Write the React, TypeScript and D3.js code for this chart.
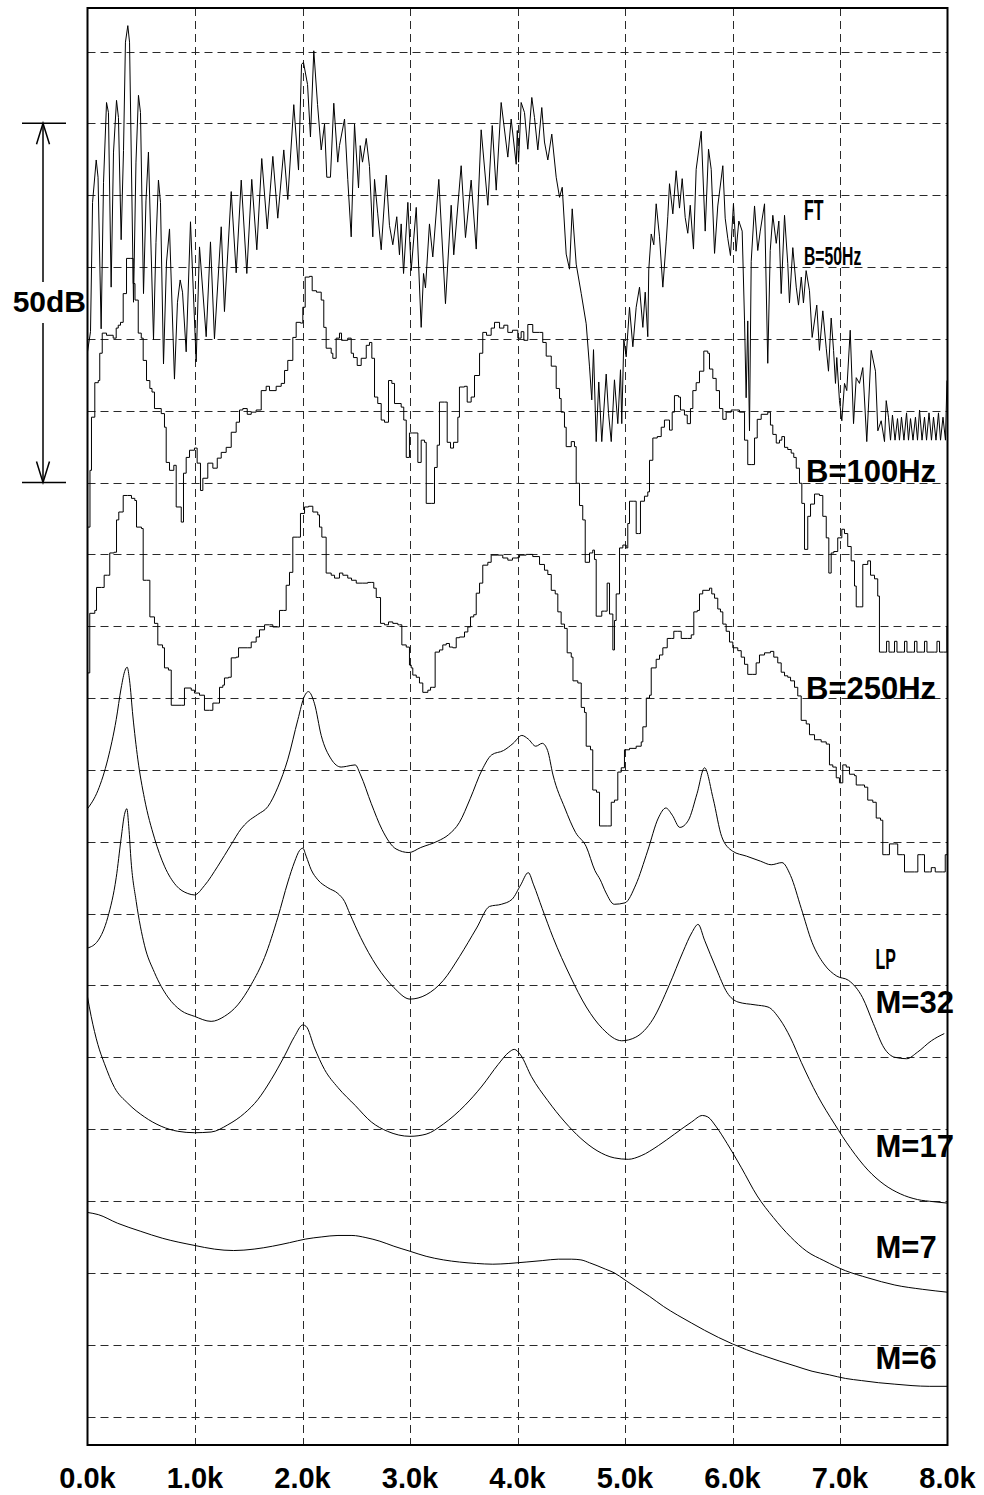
import React from 'react';
import * as d3 from 'd3';

// frequency in kHz, level in dB (10 dB per grid step)
const FT_B50: number[][] = [
  [0.000,148.2],[0.028,151.0],[0.047,169.0],[0.081,174.9],[0.098,172.5],[0.127,151.4],[0.149,171.8],[0.177,182.9],[0.195,181.5],[0.220,157.2],
  [0.242,176.0],[0.270,183.2],[0.288,180.8],[0.313,163.8],[0.335,176.2],[0.353,191.3],[0.375,193.6],[0.391,191.3],[0.428,155.1],[0.451,174.6],
  [0.474,183.9],[0.493,181.5],[0.521,156.3],[0.544,169.2],[0.567,176.0],[0.614,149.9],[0.637,163.4],[0.660,172.1],[0.679,169.0],[0.707,146.5],
  [0.735,160.7],[0.763,165.3],[0.809,144.4],[0.837,155.1],[0.862,158.2],[0.884,156.5],[0.918,148.2],[0.958,166.3],[1.011,146.8],[1.042,162.8],
  [1.104,150.3],[1.144,163.5],[1.181,150.0],[1.244,165.6],[1.274,153.8],[1.337,170.5],[1.383,159.2],[1.430,172.1],[1.482,159.1],[1.528,172.2],
  [1.575,162.4],[1.621,175.1],[1.672,165.3],[1.724,175.4],[1.770,166.8],[1.826,176.3],[1.863,169.4],[1.919,182.6],[1.963,173.5],[1.991,188.2],
  [2.009,188.5],[2.047,185.4],[2.074,178.1],[2.105,190.1],[2.140,182.6],[2.174,176.3],[2.205,179.9],[2.226,172.5],[2.260,172.5],[2.291,182.8],
  [2.328,174.6],[2.344,176.9],[2.391,180.6],[2.421,172.2],[2.453,164.2],[2.484,179.9],[2.521,171.0],[2.537,176.9],[2.558,174.6],[2.593,177.9],
  [2.623,174.0],[2.654,164.2],[2.670,172.2],[2.700,167.4],[2.732,162.4],[2.779,172.8],[2.809,165.8],[2.840,163.1],[2.877,167.0],[2.902,161.7],
  [2.918,166.0],[2.940,159.1],[2.980,169.0],[3.011,159.5],[3.058,168.3],[3.104,151.6],[3.126,159.1],[3.144,157.1],[3.181,166.0],[3.212,161.4],
  [3.268,172.2],[3.330,154.9],[3.383,168.6],[3.407,161.7],[3.476,174.1],[3.516,164.1],[3.569,172.1],[3.616,162.5],[3.662,179.1],[3.724,168.6],
  [3.765,179.7],[3.802,170.7],[3.848,182.9],[3.910,175.3],[3.941,180.6],[3.988,174.3],[3.998,179.0],[4.010,174.6],[4.034,182.9],[4.065,181.5],
  [4.096,176.4],[4.133,183.6],[4.158,180.8],[4.189,176.3],[4.226,182.2],[4.251,177.4],[4.282,174.9],[4.319,178.5],[4.360,172.5],[4.391,169.7],
  [4.416,171.1],[4.453,161.8],[4.484,159.7],[4.509,168.1],[4.546,160.4],[4.593,156.3],[4.639,152.1],[4.670,146.1],[4.691,141.5],[4.707,148.5],
  [4.732,135.7],[4.756,144.0],[4.784,135.7],[4.825,145.1],[4.847,139.6],[4.872,135.7],[4.902,144.3],[4.933,138.2],[4.958,145.7],[4.970,138.2],
  [4.989,149.9],[5.011,147.5],[5.042,154.4],[5.073,148.9],[5.104,154.4],[5.135,157.2],[5.166,151.6],[5.188,156.5],[5.212,150.3],[5.221,159.6],
  [5.244,164.6],[5.268,163.1],[5.290,168.8],[5.321,164.2],[5.352,157.2],[5.383,163.5],[5.398,167.0],[5.414,171.6],[5.445,167.4],[5.476,173.4],
  [5.507,168.2],[5.532,172.3],[5.560,166.9],[5.584,164.7],[5.607,168.6],[5.637,162.5],[5.662,173.6],[5.709,178.9],[5.746,165.0],[5.777,176.4],
  [5.802,173.6],[5.833,161.9],[5.863,168.5],[5.910,174.1],[5.932,166.8],[5.956,164.0],[5.981,161.6],[6.009,168.8],[6.033,162.2],[6.059,166.4],
  [6.090,165.0],[6.112,152.5],[6.127,141.8],[6.142,152.5],[6.158,137.2],[6.174,160.8],[6.205,168.5],[6.235,162.3],[6.258,165.0],[6.298,168.8],
  [6.328,146.6],[6.351,162.3],[6.375,167.2],[6.407,163.3],[6.431,166.4],[6.453,156.3],[6.484,167.2],[6.514,160.5],[6.530,155.0],[6.561,162.7],
  [6.593,157.2],[6.614,154.7],[6.640,158.6],[6.660,155.0],[6.685,159.5],[6.716,156.7],[6.741,150.2],[6.784,154.7],[6.809,148.4],[6.840,153.9],
  [6.872,148.7],[6.893,145.5],[6.918,152.9],[6.940,148.4],[6.958,143.8],[6.970,147.4],[6.995,141.4],[7.017,138.6],[7.042,143.8],[7.063,142.8],
  [7.095,151.2],[7.126,138.2],[7.151,144.6],[7.181,143.8],[7.212,146.0],[7.249,135.7],[7.290,148.4],[7.330,145.5],[7.352,137.2],[7.383,138.6],
  [7.414,135.7],[7.430,141.4],[7.451,139.1],[7.470,135.9],[7.488,139.4],[7.512,135.9],[7.535,138.9],[7.553,135.9],[7.572,139.1],[7.595,135.9],
  [7.619,139.7],[7.637,135.9],[7.656,138.9],[7.679,135.9],[7.702,139.1],[7.721,135.9],[7.740,140.1],[7.763,135.9],[7.786,139.1],[7.805,135.9],
  [7.828,139.7],[7.851,135.9],[7.870,139.1],[7.893,135.9],[7.916,139.7],[7.935,135.9],[7.958,139.1],[7.981,135.9],[7.995,144.2],
];

const FT_B100: number[][] = [
  [0,123.8],[0.023,131.7],[0.037,139.1],[0.068,143.9],[0.100,144.2],[0.114,148.0],[0.137,150.8],[0.177,150.5],[0.239,150.1],[0.267,151.5],
  [0.286,151.9],[0.307,152.3],[0.332,156.3],[0.363,161.2],[0.403,161.2],[0.425,157.7],[0.442,155.4],[0.472,150.8],[0.500,150.1],[0.518,147.0],
  [0.549,144.2],[0.580,143.1],[0.600,142.6],[0.623,140.3],[0.686,139.6],[0.716,137.7],[0.732,132.8],[0.763,131.7],[0.803,132.4],[0.825,126.6],
  [0.872,124.5],[0.893,131.3],[0.918,133.5],[0.949,134.5],[0.995,134.8],[1.020,132.7],[1.051,128.9],[1.073,130.6],[1.119,132.7],[1.166,132.0],
  [1.207,133.4],[1.244,134.2],[1.290,134.9],[1.337,137.0],[1.383,138.4],[1.414,140.1],[1.445,140.3],[1.486,139.5],[1.523,139.8],[1.569,140.1],
  [1.616,142.8],[1.662,143.4],[1.693,142.8],[1.755,143.4],[1.802,143.8],[1.833,145.6],[1.863,147.0],[1.910,150.2],[1.941,152.3],[1.981,152.2],
  [2.003,154.4],[2.025,158.6],[2.065,158.7],[2.090,156.7],[2.130,156.5],[2.174,155.4],[2.198,151.6],[2.220,148.7],[2.267,148.0],[2.282,147.3],
  [2.313,150.1],[2.344,150.8],[2.363,149.8],[2.421,150.1],[2.453,148.0],[2.474,147.4],[2.509,146.3],[2.546,147.3],[2.593,149.1],[2.623,149.5],
  [2.645,147.3],[2.670,141.9],[2.700,141.0],[2.732,138.7],[2.763,138.4],[2.800,144.2],[2.831,143.8],[2.856,141.0],[2.918,140.5],[2.942,138.7],
  [2.965,133.5],[2.995,136.9],[3.026,136.9],[3.073,132.8],[3.104,135.9],[3.135,135.6],[3.151,127.1],[3.197,127.1],[3.228,132.1],[3.253,135.2],
  [3.274,141.2],[3.321,141.2],[3.346,135.6],[3.377,134.8],[3.405,135.6],[3.445,139.1],[3.460,143.3],[3.507,143.4],[3.532,141.2],[3.569,141.9],
  [3.600,144.9],[3.647,148.0],[3.677,150.9],[3.712,150.5],[3.755,151.5],[3.786,152.3],[3.833,151.5],[3.873,151.9],[3.910,150.9],[3.953,151.2],
  [4.003,150.1],[4.034,151.0],[4.059,149.8],[4.096,152.0],[4.142,150.9],[4.205,150.9],[4.235,149.5],[4.267,147.6],[4.298,147.6],[4.314,146.2],
  [4.360,143.1],[4.391,141.7],[4.406,139.8],[4.437,137.7],[4.453,135.0],[4.500,135.7],[4.530,135.0],[4.546,129.9],[4.577,126.8],[4.607,124.8],
  [4.630,118.9],[4.670,120.2],[4.700,120.6],[4.716,119.3],[4.732,111.4],[4.784,112.1],[4.809,112.1],[4.834,116.0],[4.856,111.7],[4.887,106.7],
  [4.902,110.8],[4.918,114.5],[4.949,120.9],[4.980,121.3],[5.011,120.9],[5.026,124.3],[5.042,127.4],[5.082,127.4],[5.104,122.9],[5.126,122.9],
  [5.144,127.4],[5.181,128.1],[5.212,128.7],[5.228,133.1],[5.259,136.2],[5.300,136.4],[5.337,137.7],[5.367,138.7],[5.398,138.7],[5.414,137.3],
  [5.439,139.8],[5.460,142.1],[5.498,141.9],[5.516,140.1],[5.553,139.4],[5.579,138.2],[5.609,140.3],[5.631,142.8],[5.662,143.9],[5.693,145.5],
  [5.733,148.3],[5.770,148.0],[5.786,145.8],[5.817,144.5],[5.848,142.8],[5.879,140.3],[5.910,138.8],[5.941,139.8],[5.988,140.1],[6.035,140.1],
  [6.065,139.8],[6.112,135.9],[6.142,132.5],[6.180,132.5],[6.205,136.2],[6.230,138.8],[6.267,139.5],[6.328,139.8],[6.353,138.0],[6.375,136.7],
  [6.407,135.5],[6.437,135.9],[6.459,136.4],[6.484,134.9],[6.514,134.6],[6.546,134.1],[6.570,133.5],[6.593,132.0],[6.623,129.9],[6.645,127.1],
  [6.670,120.7],[6.700,125.3],[6.726,127.0],[6.763,128.4],[6.809,128.2],[6.840,125.3],[6.872,122.3],[6.896,117.4],[6.918,120.2],[6.942,120.4],
  [6.979,122.3],[7.017,123.5],[7.042,122.9],[7.072,121.1],[7.104,119.1],[7.135,115.6],[7.151,112.7],[7.181,112.7],[7.212,118.6],[7.258,119.1],
  [7.284,117.1],[7.321,116.6],[7.351,114.2],[7.367,106.4],[7.414,106.4],[7.433,107.9],[7.456,106.4],[7.488,106.4],[7.507,107.9],[7.530,106.4],
  [7.581,106.4],[7.600,107.9],[7.623,106.4],[7.674,106.4],[7.693,107.9],[7.716,106.4],[7.767,106.4],[7.786,107.9],[7.809,106.4],[7.879,106.4],
  [7.902,107.9],[7.926,106.4],[7.963,106.4],[7.995,109.9],
];

const FT_B250: number[][] = [
  [0,103.5],[0.021,111.8],[0.068,112.2],[0.084,115.4],[0.130,115.4],[0.155,117.1],[0.186,117.1],[0.207,120.2],[0.248,120.3],[0.270,124.8],
  [0.291,125.9],[0.332,128.2],[0.372,128.2],[0.409,127.8],[0.440,127.5],[0.456,123.8],[0.502,123.6],[0.518,116.4],[0.549,116.4],[0.580,111.3],
  [0.623,110.4],[0.654,107.4],[0.698,107.0],[0.716,104.2],[0.753,103.9],[0.779,99.0],[0.872,99.0],[0.902,101.4],[0.965,101.1],[0.995,100.7],
  [1.042,100.4],[1.088,98.3],[1.135,98.3],[1.166,99.3],[1.207,99.3],[1.228,101.5],[1.259,101.8],[1.274,102.8],[1.312,102.9],[1.337,105.6],
  [1.383,105.7],[1.405,107.0],[1.491,107.0],[1.523,107.8],[1.569,108.5],[1.600,109.5],[1.647,110.2],[1.693,110.2],[1.724,109.9],[1.765,109.9],
  [1.786,112.2],[1.826,112.2],[1.848,115.7],[1.879,117.5],[1.910,122.4],[1.956,122.4],[1.981,125.7],[2.019,126.6],[2.056,126.7],[2.096,125.9],
  [2.142,125.5],[2.158,123.8],[2.180,122.4],[2.220,117.4],[2.267,117.1],[2.298,116.7],[2.344,117.4],[2.375,117.1],[2.421,116.7],[2.456,116.4],
  [2.500,116.0],[2.561,116.0],[2.607,116.1],[2.639,116.1],[2.663,115.3],[2.686,114.0],[2.707,114.0],[2.726,110.4],[2.763,110.2],[2.800,110.6],
  [2.840,110.4],[2.887,110.2],[2.902,110.2],[2.924,107.4],[2.965,107.1],[2.995,104.6],[3.011,104.2],[3.026,103.2],[3.058,102.9],[3.088,102.1],
  [3.119,100.8],[3.166,101.1],[3.191,101.5],[3.212,101.5],[3.234,106.4],[3.274,106.7],[3.305,107.4],[3.337,107.6],[3.367,107.1],[3.398,107.0],
  [3.430,108.4],[3.460,108.5],[3.507,109.2],[3.538,109.9],[3.563,111.3],[3.593,111.6],[3.616,114.6],[3.647,116.0],[3.677,118.5],[3.724,118.9],
  [3.755,119.9],[3.817,119.9],[3.863,119.5],[3.910,119.2],[3.953,119.5],[4.003,119.6],[4.019,119.9],[4.081,120.0],[4.142,119.7],[4.205,118.6],
  [4.251,117.8],[4.282,117.2],[4.314,115.0],[4.351,114.5],[4.375,112.0],[4.406,110.3],[4.437,109.7],[4.462,106.3],[4.500,105.7],[4.516,102.4],
  [4.561,102.1],[4.593,98.7],[4.623,98.0],[4.639,93.3],[4.679,92.8],[4.700,87.2],[4.735,86.9],[4.763,82.2],[4.840,82.2],[4.872,85.5],
  [4.902,85.8],[4.933,89.7],[4.965,90.3],[4.995,92.8],[5.042,93.0],[5.104,93.3],[5.151,93.9],[5.166,96.0],[5.198,100.0],[5.228,100.4],
  [5.244,104.2],[5.290,105.4],[5.321,106.0],[5.352,107.0],[5.393,108.3],[5.430,108.3],[5.454,109.3],[5.491,109.3],[5.523,108.3],[5.584,108.3],
  [5.616,108.8],[5.640,112.0],[5.672,112.2],[5.693,114.5],[5.723,115.0],[5.786,115.3],[5.807,114.5],[5.833,113.9],[5.863,112.4],[5.888,112.0],
  [5.910,110.3],[5.941,109.3],[5.972,107.8],[6.003,107.0],[6.049,106.6],[6.081,105.7],[6.112,104.7],[6.142,103.3],[6.189,103.3],[6.220,104.9],
  [6.251,106.0],[6.298,106.3],[6.353,106.5],[6.384,105.7],[6.421,104.9],[6.453,103.6],[6.484,103.1],[6.514,102.9],[6.540,102.4],[6.577,101.5],
  [6.607,100.3],[6.639,96.9],[6.686,96.4],[6.716,94.9],[6.763,94.2],[6.825,93.9],[6.872,93.6],[6.902,90.7],[6.933,90.4],[6.965,88.9],
  [6.995,88.2],[7.026,90.7],[7.058,90.4],[7.088,89.4],[7.135,89.2],[7.151,87.9],[7.197,87.9],[7.228,87.6],[7.258,85.8],[7.305,85.5],
  [7.337,83.3],[7.377,83.0],[7.398,78.2],[7.430,78.2],[7.460,79.7],[7.507,79.7],[7.537,78.2],[7.584,78.2],[7.600,75.8],[7.693,75.8],
  [7.724,78.2],[7.761,78.2],[7.786,75.8],[7.833,75.8],[7.849,76.4],[7.873,76.4],[7.886,75.8],[7.956,75.8],[7.979,78.2],[8.0,78.2],
];

const LP_M32: number[][] = [
  [0,84.6],[0.096,87.1],[0.189,91.5],[0.267,97.0],[0.313,101.4],[0.350,103.9],[0.369,104.3],[0.391,102.5],[0.422,97.5],[0.468,91.5],
  [0.530,86.0],[0.623,80.5],[0.716,76.6],[0.825,73.9],[0.933,72.8],[0.995,72.6],[1.088,73.9],[1.212,76.6],[1.336,79.6],[1.429,81.8],
  [1.491,82.8],[1.584,83.8],[1.678,84.9],[1.771,87.6],[1.864,91.5],[1.957,97.0],[2.019,100.3],[2.055,100.9],[2.112,99.2],[2.174,94.8],
  [2.267,91.5],[2.360,90.4],[2.41,90.5],[2.49,90.7],[2.54,89.3],[2.64,85.3],[2.74,81.7],[2.87,79.0],[2.99,78.5],[3.10,79.2],
  [3.26,80.1],[3.36,81.0],[3.46,82.7],[3.56,86.0],[3.67,90.0],[3.76,92.1],[3.87,92.7],[3.96,93.7],[4.04,94.8],[4.10,94.3],
  [4.17,93.3],[4.23,93.7],[4.28,92.7],[4.33,89.3],[4.44,84.7],[4.54,81.3],[4.64,79.3],[4.72,76.0],[4.77,74.7],[4.82,73.0],
  [4.90,71.3],[5.00,71.5],[5.10,74.0],[5.21,78.7],[5.31,83.3],[5.38,84.7],[5.44,83.7],[5.51,82.0],[5.59,83.0],[5.67,86.7],
  [5.74,90.3],[5.82,86.0],[5.90,80.7],[6.00,78.7],[6.13,78.0],[6.26,77.3],[6.36,76.8],[6.46,77.1],[6.54,75.3],[6.64,70.7],
  [6.74,66.0],[6.85,63.0],[6.97,61.3],[7.08,60.7],[7.21,58.3],[7.31,54.7],[7.41,51.3],[7.51,50.0],[7.62,49.8],[7.72,50.7],
  [7.85,52.3],[7.97,53.3],
];

const LP_M17: number[][] = [
  [0,65.2],[0.096,66.2],[0.189,69.5],[0.267,75.0],[0.313,80.5],[0.344,83.8],[0.366,84.6],[0.384,82.1],[0.406,77.2],[0.453,71.7],
  [0.530,65.6],[0.623,61.8],[0.747,58.4],[0.871,56.5],[0.995,55.7],[1.150,55.0],[1.274,55.7],[1.398,57.3],[1.522,60.1],[1.647,63.9],
  [1.771,69.5],[1.864,74.4],[1.926,77.2],[1.973,78.8],[2.003,79.1],[2.034,78.0],[2.081,76.1],[2.143,74.7],[2.236,73.6],[2.329,72.8],
  [2.391,71.7],[2.44,70.0],[2.54,66.7],[2.69,62.7],[2.85,59.7],[3.00,58.1],[3.15,58.7],[3.31,60.7],[3.46,64.0],[3.62,68.0],
  [3.74,71.0],[3.85,71.3],[3.95,72.0],[4.03,74.0],[4.10,75.7],[4.15,74.0],[4.23,70.7],[4.33,66.7],[4.49,61.3],[4.64,57.0],
  [4.79,54.0],[4.97,52.3],[5.10,52.8],[5.26,55.3],[5.41,60.0],[5.54,64.7],[5.62,67.3],[5.68,68.5],[5.74,66.3],[5.85,62.3],
  [5.95,59.0],[6.05,57.7],[6.21,57.3],[6.33,57.0],[6.44,55.3],[6.54,52.7],[6.64,49.3],[6.79,44.7],[6.95,40.7],[7.10,37.3],
  [7.26,34.3],[7.41,32.3],[7.56,31.0],[7.72,30.2],[7.87,29.9],[8.0,29.7],
];

const LP_M7: number[][] = [
  [0,58.4],[0.034,55.7],[0.096,51.8],[0.158,49.1],[0.251,45.8],[0.375,43.6],[0.530,41.7],[0.685,40.4],[0.840,39.7],[0.995,39.5],
  [1.150,39.6],[1.305,40.6],[1.460,42.2],[1.584,44.1],[1.709,46.9],[1.833,50.2],[1.926,52.9],[2.003,54.5],[2.034,54.3],[2.112,51.3],
  [2.205,48.3],[2.329,45.8],[2.49,43.3],[2.64,41.0],[2.79,39.7],[3.0,39.0],[3.15,39.3],[3.31,40.7],[3.51,43.3],[3.67,46.0],
  [3.82,49.0],[3.92,50.7],[3.97,51.1],[4.03,50.3],[4.13,47.3],[4.28,44.0],[4.44,41.0],[4.59,38.7],[4.74,37.0],[4.90,36.0],
  [5.03,35.8],[5.15,36.3],[5.31,37.7],[5.46,39.3],[5.62,41.0],[5.72,41.9],[5.77,41.7],[5.85,40.3],[5.95,38.0],[6.08,34.7],
  [6.23,30.7],[6.38,27.7],[6.54,25.0],[6.69,23.0],[6.85,21.7],[7.05,20.3],[7.26,19.3],[7.51,18.3],[7.77,17.7],[8.0,17.3],
];

const LP_M6: number[][] = [
  [0,28.4],[0.1,28.1],[0.28,26.9],[0.49,25.8],[0.70,24.8],[1.0,23.8],[1.18,23.3],[1.36,23.1],[1.55,23.3],[1.72,23.7],
  [1.88,24.2],[2.03,24.7],[2.18,25.0],[2.33,25.2],[2.46,25.2],[2.59,24.9],[2.72,24.4],[2.85,23.7],[3.0,23.0],[3.15,22.3],
  [3.31,21.8],[3.46,21.5],[3.62,21.3],[3.77,21.2],[3.92,21.3],[4.08,21.5],[4.23,21.7],[4.38,21.9],[4.50,21.9],[4.59,21.8],
  [4.67,21.4],[4.74,21.0],[4.82,20.5],[4.90,20.0],[5.0,19.0],[5.10,18.0],[5.23,16.7],[5.36,15.3],[5.49,14.1],[5.62,13.0],
  [5.74,12.0],[5.87,11.0],[6.0,10.1],[6.13,9.3],[6.28,8.5],[6.44,7.7],[6.59,7.0],[6.74,6.3],[6.9,5.8],[7.05,5.3],
  [7.2,5.0],[7.36,4.7],[7.51,4.5],[7.67,4.3],[7.83,4.2],[8.0,4.2],
];

const X_TICKS = [0, 1, 2, 3, 4, 5, 6, 7, 8];
const GRID_DB = d3.range(0, 191, 10);

const FONT = "'Liberation Sans', Arial, Helvetica, sans-serif";

export default function App() {
  const W = 984;
  const H = 1495;
  const left = 87.5, right = 947.5, top = 8, bottom = 1445;

  const x = d3.scaleLinear().domain([0, 8]).range([left, right]);
  const y = d3.scaleLinear().domain([0, 190]).range([1416.5, 51.5]);

  const spiky = d3.line<number[]>().x(d => x(d[0])).y(d => y(d[1]));
  // the smoothed spectra were plotted as staircases
  const stairs = d3.line<number[]>().x(d => x(d[0])).y(d => y(d[1])).curve(d3.curveStepAfter);
  const smooth = d3.line<number[]>().x(d => x(d[0])).y(d => y(d[1])).curve(d3.curveMonotoneX);

  const lpSeries = [LP_M32, LP_M17, LP_M7, LP_M6];

  // 50 dB scale bar
  const barX = 43;
  const barTop = y(180);
  const barBot = y(130);

  const bigLabel = { fontFamily: FONT, fontWeight: 700, fontSize: 31, fill: '#000' } as const;

  return (
    <svg width={W} height={H} style={{ position: 'absolute', left: 0, top: 0, background: '#fff' }}>
      <rect x={0} y={0} width={W} height={H} fill="#fff" />

      {/* grid */}
      <g stroke="#2a2a2a" strokeWidth={1} strokeDasharray="8 5" fill="none">
        {GRID_DB.map(v => (
          <line key={'h' + v} x1={left} x2={right} y1={Math.round(y(v)) + 0.5} y2={Math.round(y(v)) + 0.5} />
        ))}
        {X_TICKS.slice(1, -1).map(k => (
          <line key={'v' + k} x1={Math.round(x(k)) + 0.5} x2={Math.round(x(k)) + 0.5} y1={top} y2={bottom} />
        ))}
      </g>

      {/* curves */}
      <g fill="none" stroke="#000" strokeWidth={1} strokeLinejoin="round">
        <path d={spiky(FT_B50) || ''} />
        <path d={stairs(FT_B100) || ''} />
        <path d={stairs(FT_B250) || ''} />
        {lpSeries.map((s, i) => <path key={'s' + i} d={smooth(s) || ''} />)}
      </g>

      {/* frame */}
      <rect x={left} y={top} width={right - left} height={bottom - top} fill="none" stroke="#000" strokeWidth={2} />

      {/* 50dB scale */}
      <g stroke="#000" strokeWidth={1.5} fill="none">
        <line x1={22} x2={66} y1={barTop} y2={barTop} />
        <line x1={22} x2={66} y1={barBot} y2={barBot} />
        <line x1={barX} x2={barX} y1={barTop} y2={282} />
        <line x1={barX} x2={barX} y1={323} y2={barBot} />
        <polyline points={`${barX - 6.5},${barTop + 21} ${barX},${barTop} ${barX + 6.5},${barTop + 21}`} />
        <polyline points={`${barX - 6.5},${barBot - 21} ${barX},${barBot} ${barX + 6.5},${barBot - 21}`} />
      </g>
      <text x={86} y={312} textAnchor="end" {...bigLabel} fontSize={30}>50dB</text>

      {/* x tick labels */}
      {X_TICKS.map(k => (
        <text key={'t' + k} x={x(k)} y={1488} textAnchor="middle" fontFamily={FONT} fontWeight={700} fontSize={29}>
          {k.toFixed(1) + 'k'}
        </text>
      ))}

      {/* curve labels */}
      <text transform={`translate(${x(6.665)},220) scale(0.55,1)`} fontFamily={FONT} fontWeight={700} fontSize={29}>FT</text>
      <text transform={`translate(${x(6.665)},265) scale(0.63,1)`} fontFamily={FONT} fontWeight={700} fontSize={25}>B=50Hz</text>
      <text x={x(6.684)} y={482} {...bigLabel}>B=100Hz</text>
      <text x={x(6.684)} y={699} {...bigLabel}>B=250Hz</text>
      <text transform={`translate(${x(7.33)},969) scale(0.55,1)`} fontFamily={FONT} fontWeight={700} fontSize={29}>LP</text>
      <text x={x(7.33)} y={1013} {...bigLabel}>M=32</text>
      <text x={x(7.33)} y={1157} {...bigLabel}>M=17</text>
      <text x={x(7.33)} y={1258} {...bigLabel}>M=7</text>
      <text x={x(7.33)} y={1369} {...bigLabel}>M=6</text>
    </svg>
  );
}
